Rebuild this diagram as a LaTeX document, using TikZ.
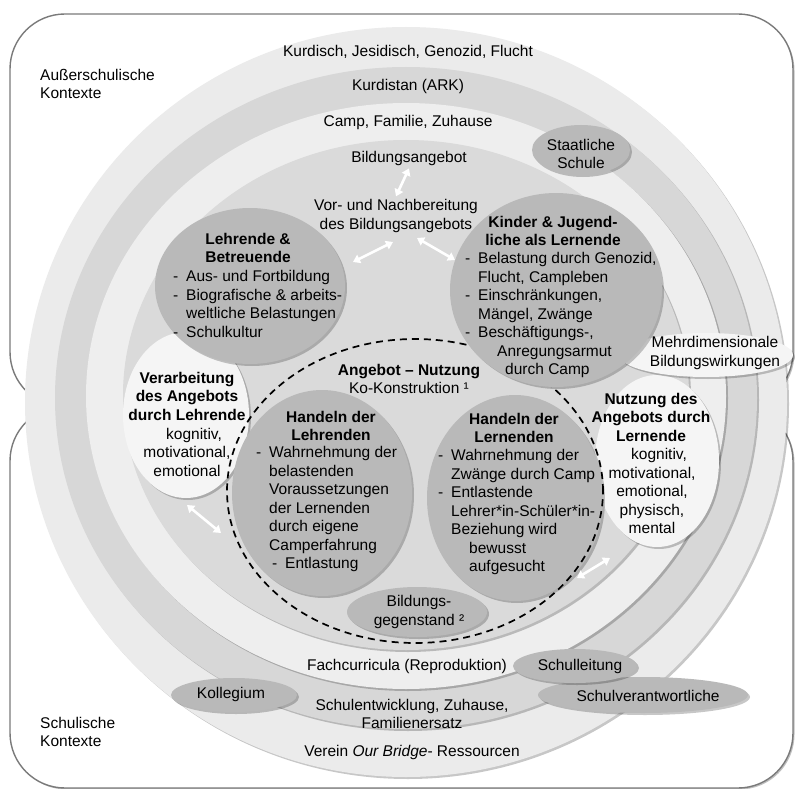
\documentclass[tikz,border=0pt]{standalone}
\usepackage{fontspec}
\setmainfont{Liberation Sans}
\usetikzlibrary{shapes.geometric,arrows.meta,shadows}
\definecolor{bandA}{HTML}{EBEBEB}
\definecolor{bandB}{HTML}{D7D7D7}
\definecolor{bandC}{HTML}{EEEEEE}
\definecolor{discC}{HTML}{DADADA}
\definecolor{cDark}{HTML}{B9B9B9}
\definecolor{cWhite}{HTML}{F5F5F5}
\definecolor{boxLine}{HTML}{7A7A7A}
\newcommand{\dsh}{\makebox[13pt][l]{-}}
\newcommand{\ind}{\hspace*{13pt}}
\begin{document}
\begin{tikzpicture}[x=1pt,y=-1pt,
  font=\fontsize{15.5}{18.5}\selectfont,
  sh/.style={drop shadow={shadow xshift=2pt,shadow yshift=-2pt,opacity=0.22,fill=black}},
  blob/.style={ellipse,inner sep=0pt,sh},
  ctxbox/.style={draw=boxLine,line width=1.4pt,fill=white,rounded corners=55pt,
     drop shadow={shadow xshift=1.5pt,shadow yshift=-1.5pt,opacity=0.25,fill=black}},
  txt/.style={inner sep=0pt,align=center},
  ltxt/.style={inner sep=0pt,align=left,anchor=west},
  dbl/.style={white,line width=2.6pt,{Triangle[width=9pt,length=7pt]}-{Triangle[width=9pt,length=7pt]}}
]
\useasboundingbox (0,0) rectangle (795,789);
\fill[white] (0,0) rectangle (795,789);

% context boxes
\path[ctxbox] (10,14) rectangle (793,407);
\path[ctxbox] (10,406) rectangle (793,788);

% rings
\fill[bandA,sh] (406,402) ellipse [x radius=381,y radius=375];
\fill[bandB,sh] (406,398) ellipse [x radius=351,y radius=331];
\fill[bandC,sh] (406,396) ellipse [x radius=320,y radius=293];
\fill[discC,sh] (406,395) ellipse [x radius=283,y radius=255];

% ellipses and circles
\node[blob,fill=cDark,minimum width=98pt,minimum height=50pt] (staat) at (581,150) {};
\node[blob,fill=cWhite,minimum width=124pt,minimum height=172pt] (nutz) at (657,461) {};
\node[blob,fill=cWhite,minimum width=174pt,minimum height=44pt] (mehr) at (706,355) {};
\node[blob,fill=cWhite,minimum width=126pt,minimum height=166pt] (verarb) at (186,415) {};
\node[blob,fill=cDark,minimum width=190pt,minimum height=156pt] (lehr) at (250,286) {};
\node[blob,fill=cDark,minimum width=180pt,minimum height=206pt] (hlehr) at (322,493) {};
\node[blob,fill=cDark,minimum width=176pt,minimum height=206pt] (hlern) at (515,498) {};
\node[blob,fill=cDark,minimum width=140pt,minimum height=50pt] (gegen) at (417,612) {};
\node[ellipse,inner sep=0pt,draw=black,line width=1.7pt,dash pattern=on 7pt off 5pt,
      minimum width=376pt,minimum height=304pt] (angnutz) at (415,491) {};
\node[blob,fill=cDark,minimum width=212pt,minimum height=194pt] (kind) at (556,290) {};
\node[blob,fill=cDark,minimum width=126pt,minimum height=34pt] (koll) at (234,695) {};
\node[blob,fill=cDark,minimum width=210pt,minimum height=36pt] (sverant) at (643,695) {};
\node[blob,fill=cDark,minimum width=124pt,minimum height=34pt] (sleit) at (575,666) {};

% context labels
\node[txt,align=left,anchor=west] (aussen) at (40,84) {Außerschulische\\Kontexte};
\node[txt,align=left,anchor=west] (schul) at (40,732) {Schulische\\Kontexte};

% ring labels
\node[txt] (kurd) at (408,52) {Kurdisch, Jesidisch, Genozid, Flucht};
\node[txt] (ark) at (408,86) {Kurdistan (ARK)};
\node[txt] (camp) at (408,122) {Camp, Familie, Zuhause};
\node[txt] (bild) at (409,158) {Bildungsangebot};
\node[txt] (vor) at (396,216) {Vor- und Nachbereitung\\des Bildungsangebots};
\node[txt] (fach) at (407,666) {Fachcurricula (Reproduktion)};
\node[txt] (sentw) at (412,714) {Schulentwicklung, Zuhause,\\Familienersatz};
\node[txt] (verein) at (412,752) {Verein \textit{Our Bridge}- Ressourcen};

% small ellipse labels
\node[txt] (staatT) at (581,154) {Staatliche\\Schule};
\node[txt] (mehrT) at (715,353) {Mehrdimensionale\\Bildungswirkungen};
\node[txt] (gegenT) at (419,612) {Bildungs-\\gegenstand ²};
\node[txt] (kollT) at (231,694) {Kollegium};
\node[txt] (sleitT) at (580,666) {Schulleitung};
\node[txt] (sverantT) at (648,696) {Schulverantwortliche};

% Lehrende & Betreuende
\node[txt,font=\fontsize{15.5}{18.5}\selectfont\bfseries] (lehrH) at (248,248) {Lehrende \&\\Betreuende};
\node[ltxt] (lehrL) at (173,304) {\dsh Aus- und Fortbildung\\\dsh Biografische \& arbeits-\\\ind weltliche Belastungen\\\dsh Schulkultur};

% Kinder & Jugendliche
\node[txt,font=\fontsize{15.5}{18.5}\selectfont\bfseries] (kindH) at (553,231) {Kinder \& Jugend-\\liche als Lernende};
\node[ltxt] (kindL) at (465,315) {\dsh Belastung durch Genozid,\\\ind Flucht, Campleben\\\dsh Einschränkungen,\\\ind Mängel, Zwänge\\\dsh Beschäftigungs-,\\\hspace*{32pt}Anregungsarmut\\\hspace*{40pt}durch Camp};

% Verarbeitung
\node[txt,font=\fontsize{15.5}{18.5}\selectfont\bfseries] (verH) at (187,396) {Verarbeitung\\des Angebots\\durch Lehrende};
\node[txt] (verL) at (187,452) {\hspace*{14pt}kognitiv,\\motivational,\\emotional};

% Nutzung
\node[txt,font=\fontsize{15.5}{18.5}\selectfont\bfseries] (nutzH) at (651,417) {Nutzung des\\Angebots durch\\Lernende};
\node[txt] (nutzL) at (652,491) {\hspace*{14pt}kognitiv,\\motivational,\\emotional,\\physisch,\\mental};

% Angebot - Nutzung
\node[txt] (angT) at (409,379) {\textbf{Angebot – Nutzung}\\Ko-Konstruktion ¹};

% Handeln der Lehrenden
\node[txt,font=\fontsize{15.5}{18.5}\selectfont\bfseries] (hlehrH) at (331,426) {Handeln der\\Lehrenden};
\node[ltxt] (hlehrL) at (256,509) {\dsh Wahrnehmung der\\\ind belastenden\\\ind Voraussetzungen\\\ind der Lernenden\\\ind durch eigene\\\ind Camperfahrung\\\hspace*{16pt}\dsh Entlastung};

% Handeln der Lernenden
\node[txt,font=\fontsize{15.5}{18.5}\selectfont\bfseries] (hlernH) at (514,428) {Handeln der\\Lernenden};
\node[ltxt] (hlernL) at (438,512) {\dsh Wahrnehmung der\\\ind Zwänge durch Camp\\\dsh Entlastende\\\ind Lehrer*in-Schüler*in-\\\ind Beziehung wird\\\hspace*{31pt}bewusst\\\hspace*{31pt}aufgesucht};

% arrows
\coordinate (a2s) at (353,262); \coordinate (a2e) at (393,242);
\coordinate (a3s) at (417,238); \coordinate (a3e) at (455,260);
\coordinate (a4s) at (187,505); \coordinate (a4e) at (221,533);
\coordinate (a5s) at (577,578); \coordinate (a5e) at (610,558);
\draw[dbl] ([yshift=-3pt]bild.south) -- ([yshift=3pt]vor.north);
\draw[dbl] (a2s) -- (a2e);
\draw[dbl] (a3s) -- (a3e);
\draw[dbl] (a4s) -- (a4e);
\draw[dbl] (a5s) -- (a5e);
\end{tikzpicture}
\end{document}
